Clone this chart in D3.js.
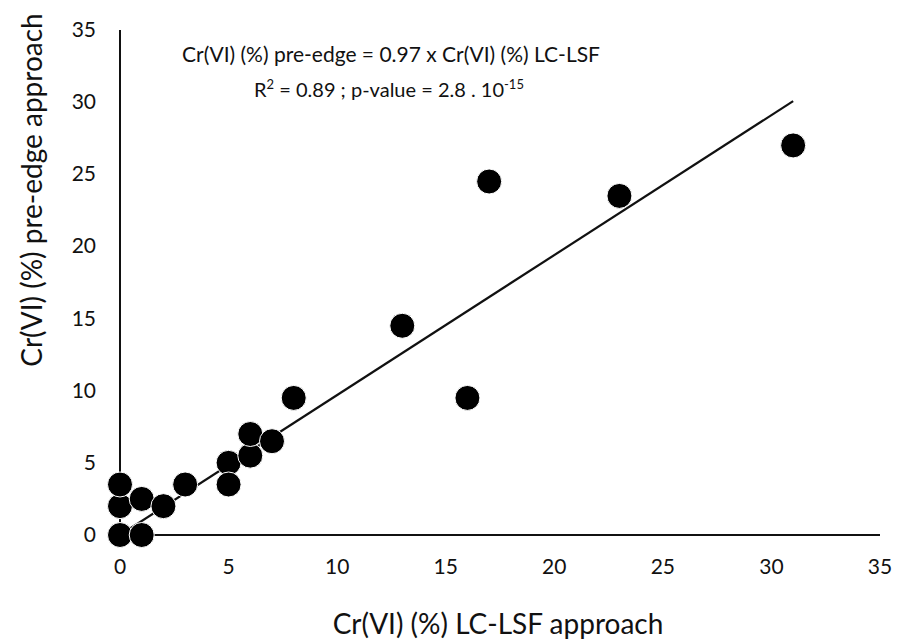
<!DOCTYPE html>
<html><head><meta charset="utf-8">
<script src="https://cdn.jsdelivr.net/npm/d3@7"></script>
<style>body{margin:0;background:#fff}svg{display:block}text{font-family:Lato,"Open Sans",sans-serif;fill:#111}</style>
</head><body>
<script>
const xValues = [0, 1, 0, 0, 1, 2, 3, 5, 5, 6, 6, 7, 8, 13, 16, 17, 23, 31];
const yValues = [0, 0, 2, 3.5, 2.5, 2, 3.5, 5, 3.5, 5.5, 7, 6.5, 9.5, 14.5, 9.5, 24.5, 23.5, 27];
const xTicks = [0, 5, 10, 15, 20, 25, 30, 35];
const yTicks = [0, 5, 10, 15, 20, 25, 30, 35];
const slope = 0.97;
const fitRange = [0, 31];
const xTitle = "Cr(VI) (%) LC-LSF approach";
const yTitle = "Cr(VI) (%) pre-edge approach";

const W = 903, H = 644;
const svg = d3.select("body").append("svg").attr("width", W).attr("height", H);
const x = d3.scaleLinear().domain([0, 35]).range([120, 880]);
const y = d3.scaleLinear().domain([0, 35]).range([535, 30]);

svg.append("line").attr("x1", x(0)).attr("x2", x(35)).attr("y1", y(0)).attr("y2", y(0)).attr("stroke", "#111").attr("stroke-width", 2);
svg.append("line").attr("x1", x(0)).attr("x2", x(0)).attr("y1", y(0)).attr("y2", y(35)).attr("stroke", "#111").attr("stroke-width", 2);

svg.selectAll(".xt").data(xTicks).join("text").attr("x", d => x(d)).attr("y", 574)
  .attr("text-anchor", "middle").attr("font-size", 21).text(d => d);
svg.selectAll(".yt").data(yTicks).join("text").attr("x", 96).attr("y", d => y(d) + 7)
  .attr("text-anchor", "end").attr("font-size", 21).text(d => d);

svg.append("line").attr("x1", x(fitRange[0])).attr("y1", y(slope * fitRange[0]))
  .attr("x2", x(fitRange[1])).attr("y2", y(slope * fitRange[1])).attr("stroke", "#111").attr("stroke-width", 2.2);

const pts = xValues.map((v, i) => [v, yValues[i]]);
svg.selectAll("circle").data(pts).join("circle").attr("cx", d => x(d[0])).attr("cy", d => y(d[1]))
  .attr("r", 12.5).attr("fill", "#000").attr("stroke", "#fff").attr("stroke-width", 1);

svg.append("text").attr("x", 391).attr("y", 62).attr("text-anchor", "middle").attr("font-size", 21)
  .text("Cr(VI) (%) pre-edge = 0.97 x Cr(VI) (%) LC-LSF");
const t2 = svg.append("text").attr("x", 389).attr("y", 97).attr("text-anchor", "middle").attr("font-size", 20);
t2.append("tspan").text("R");
t2.append("tspan").attr("dy", -8).attr("font-size", 13).text("2");
t2.append("tspan").attr("dy", 8).text(" = 0.89 ; p-value = 2.8 . 10");
t2.append("tspan").attr("dy", -8).attr("font-size", 13).text("-15");

svg.append("text").attr("x", 498).attr("y", 634).attr("text-anchor", "middle").attr("font-size", 28).text(xTitle);
svg.append("text").attr("transform", "translate(42,190) rotate(-90)").attr("text-anchor", "middle").attr("font-size", 28).text(yTitle);
</script>
</body></html>
